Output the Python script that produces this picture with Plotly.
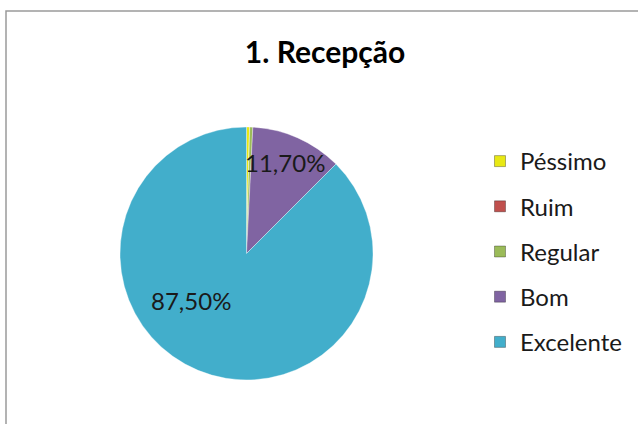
import plotly.graph_objects as go

categories = ["Péssimo", "Ruim", "Regular", "Bom", "Excelente"]
values = [0.4, 0.0, 0.4, 11.7, 87.5]
label_text = ["", "", "", "11,70%", "87,50%"]
colors = ["#E8E813", "#C0504D", "#9BBB59", "#8064A2", "#42AECB"]
title_text = "1. Recepção"

W, H = 638, 424
FONT = "Lato"
fig = go.Figure()

fig.add_trace(go.Pie(
    labels=categories,
    values=values,
    textinfo="none",
    sort=False,
    direction="clockwise",
    rotation=0,
    marker=dict(colors=colors, line=dict(color="rgba(255,255,255,0.35)", width=1)),
    showlegend=False,
    domain=dict(x=[120/W, 373/W], y=[1-380/H, 1-127/H]),
    hoverinfo="label+percent",
))

for i, (cat, col) in enumerate(zip(categories, colors)):
    fig.add_trace(go.Scatter(
        x=[None], y=[None], mode="markers", name=cat,
        marker=dict(symbol="square", size=11, color=col, line=dict(color="rgba(0,0,0,0.3)", width=1)),
        legendgroup=f"g{i}", showlegend=True,
    ))

# data label placement (pixel positions of label centres)
label_pos = {"Bom": (285, 162), "Excelente": (191, 300)}
annotations = []
for cat, txt in zip(categories, label_text):
    if txt:
        px, py = label_pos[cat]
        annotations.append(dict(text=txt, xref="paper", yref="paper",
                                x=px/W, y=1-py/H, xanchor="center", yanchor="middle",
                                showarrow=False,
                                font=dict(family=FONT, size=24, color="#1a1a1a")))

fig.update_layout(
    width=W, height=H,
    margin=dict(l=0, r=0, t=0, b=0),
    paper_bgcolor="white", plot_bgcolor="white",
    xaxis=dict(visible=False), yaxis=dict(visible=False),
    title=dict(text="<b>" + title_text + "</b>", x=325/W, xanchor="center",
               y=1-52/H, yanchor="middle",
               font=dict(family=FONT, size=30, color="#000000")),
    legend=dict(x=480/W, xanchor="left", y=1-139/H, yanchor="top",
                font=dict(family=FONT, size=24, color="#1a1a1a"),
                tracegroupgap=11, itemwidth=30, bgcolor="rgba(0,0,0,0)"),
    annotations=annotations,
    shapes=[dict(type="rect", xref="paper", yref="paper",
                 x0=6/W, y0=-0.05, x1=1.05, y1=1-11/H,
                 line=dict(color="#9a9a9a", width=1.5), fillcolor="rgba(0,0,0,0)", layer="below")],
)

fig.write_html("out.html", config={"displayModeBar": False},
               post_script="document.body.style.margin='0px';")
